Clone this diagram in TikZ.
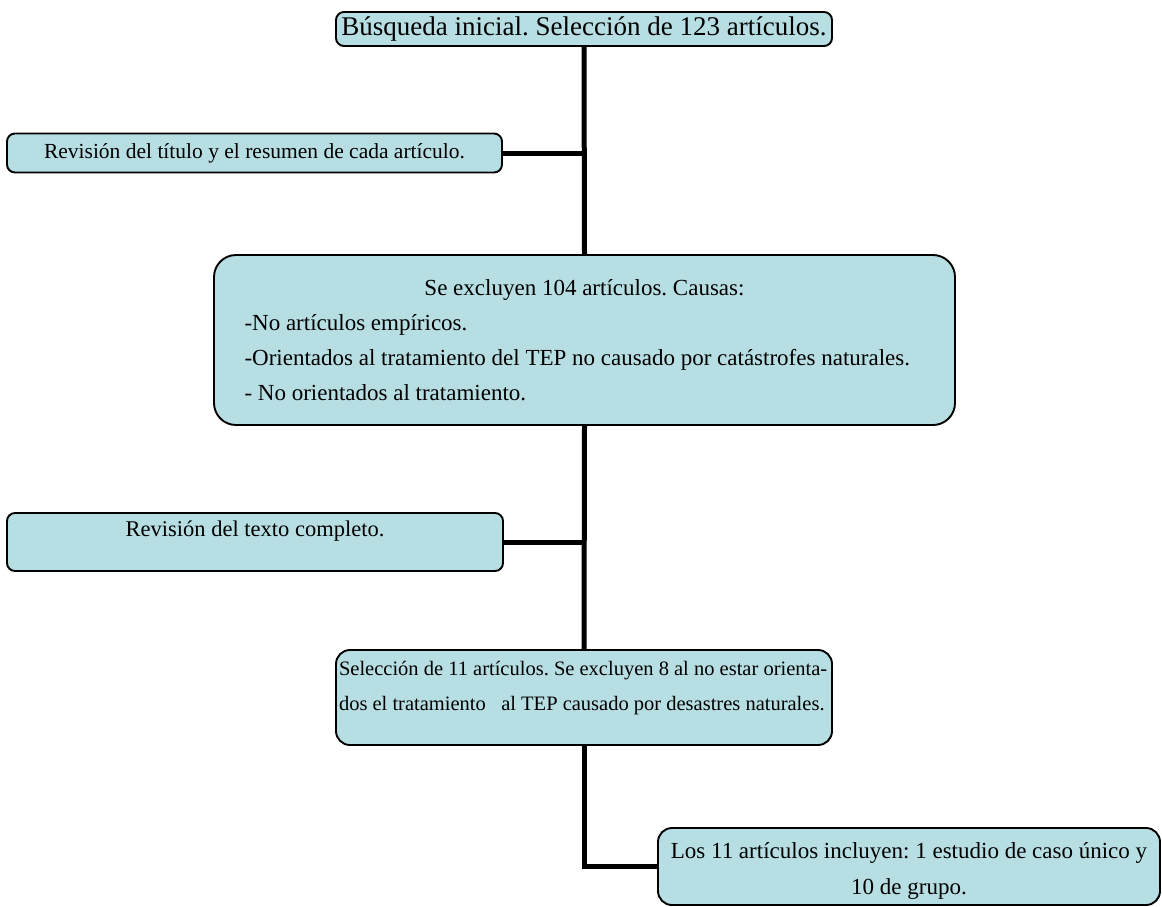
\documentclass[tikz,border=0pt]{standalone}
\usepackage{fontspec}
\setmainfont{Liberation Serif}
\usepackage{xcolor}
\definecolor{cajafondo}{HTML}{B7DEE2}
\usetikzlibrary{positioning}
\frenchspacing

\tikzset{
  caja/.style={draw=black, line width=1.9pt, fill=cajafondo,
    rounded corners=8pt, inner sep=0pt},
  enlace/.style={line width=5pt},
}

\begin{document}
\begin{tikzpicture}[x=1pt, y=-1pt] % Diagrama de seleccion de articulos

  \useasboundingbox (0,0) rectangle (1162,906);

  \node [caja, minimum width=496, minimum height=34,
    font=\fontsize{27}{30}\selectfont] (busqueda) at (584,29)
    {Búsqueda inicial. Selección de 123 artículos.};
  \node [caja, minimum width=495, minimum height=39,
    font=\fontsize{21.5}{26}\selectfont] (titulo) at (254.5,153)
    {Revisión del título y el resumen de cada artículo.};
  \node [caja, rounded corners=22pt, minimum width=741, minimum height=170,
    text width=680, align=flush left, font=\fontsize{23}{35}\selectfont]
    (excluidos) at (584.5,340)
    {\makebox[\linewidth]{Se excluyen 104 artículos. Causas:}\\
     -No artículos empíricos.\\
     -Orientados al tratamiento del TEP no causado por catástrofes naturales.\\
     - No orientados al tratamiento.};
  \node [caja, minimum width=496, text height=23, text depth=35,
    font=\fontsize{22.5}{27}\selectfont] (texto) at (255,542)
    {Revisión del texto completo.};
  \node [caja, rounded corners=14pt, minimum width=496, text width=490,
    text height=25, text depth=70, inner xsep=3pt, align=flush left,
    font=\fontsize{20.5}{35}\selectfont] (seleccion) at (584,697.5)
    {Selección de 11 artículos. Se excluyen 8 al no estar orienta-\\
     dos el tratamiento \ \ al TEP causado por desastres naturales.};
  \node [caja, rounded corners=14pt, minimum width=502, text width=495,
    text height=30, text depth=47, align=flush center,
    font=\fontsize{23}{36}\selectfont] (incluidos) at (909,866.5)
    {Los 11 artículos incluyen: 1 estudio de caso único y\\ 10 de grupo.};

  \draw [enlace] (busqueda.south) -- (excluidos.north);
  \draw [enlace] (excluidos.south) -- (seleccion.north);
  \draw [enlace] (titulo.east) -- (titulo.east -| busqueda.south);
  \draw [enlace] (texto.east) -- (texto.east -| seleccion.north);
  \draw [enlace] (seleccion.south) |- (incluidos.west);

\end{tikzpicture}
\end{document}
